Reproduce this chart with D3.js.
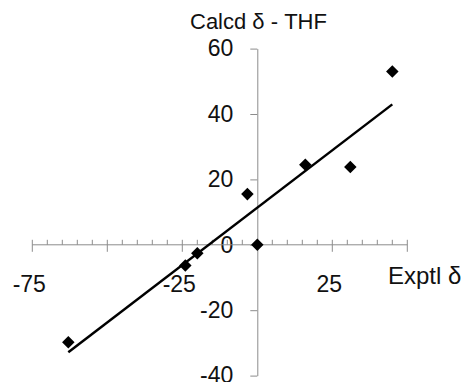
<!DOCTYPE html>
<html>
<head>
<meta charset="utf-8">
<script src="https://cdn.jsdelivr.net/npm/d3@7"></script>
<style>
  body { margin: 0; background: #fff; }
  svg { display: block; }
  text { font-family: "Liberation Sans", Arial, sans-serif; fill: #111; }
</style>
</head>
<body>
<svg id="chart" width="466" height="382"></svg>
<script>
// experimental vs calculated shifts
var exptl = [-63, -24, -20, -3.3, 0, 16, 31, 45];
var calcd = [-29.8, -6.3, -2.6, 15.5, 0, 24.5, 23.8, 53];
var xTickLabels = [-75, -25, 25];
var yTickValues = [-40, -20, 0, 20, 40, 60];

var svg = d3.select("#chart");

var x = d3.scaleLinear().domain([-75, 50]).range([32.3, 407.3]);
var y = d3.scaleLinear().domain([-40, 60]).range([375.6, 48.6]);

var axisColor = "#8c8c8c";

// y axis (through x = 0)
var yAxis = svg.append("g")
	.attr("transform", "translate(" + x(0) + ",0)")
	.call(d3.axisLeft(y).tickValues(yTickValues).tickSize(7).tickSizeOuter(0).tickPadding(17)
		.tickFormat(function(d) { return String(d); }));
yAxis.select(".domain").attr("stroke", axisColor);
yAxis.selectAll(".tick line").attr("stroke", axisColor);
yAxis.selectAll(".tick text")
	.attr("font-size", 23)
	.attr("font-family", "Liberation Sans, Arial, sans-serif")
	.attr("fill", "#111");

// x axis (through y = 0): minor ticks every 5, major every 25
var xa = svg.append("g").attr("transform", "translate(0," + y(0) + ")");
xa.append("line")
	.attr("x1", x(-75)).attr("x2", x(50))
	.attr("stroke", axisColor);
var minor = d3.range(-75, 51, 5);
xa.selectAll(".minor")
	.data(minor.filter(function(d) { return d % 25 !== 0; }))
	.enter().append("line")
	.attr("class", "minor")
	.attr("x1", function(d) { return x(d); })
	.attr("x2", function(d) { return x(d); })
	.attr("y1", -5).attr("y2", 0)
	.attr("stroke", axisColor);
xa.selectAll(".major")
	.data(minor.filter(function(d) { return d % 25 === 0 && d !== 0; }))
	.enter().append("line")
	.attr("class", "major")
	.attr("x1", function(d) { return x(d); })
	.attr("x2", function(d) { return x(d); })
	.attr("y1", -5).attr("y2", 7)
	.attr("stroke", axisColor);
xa.selectAll(".xlab")
	.data(xTickLabels)
	.enter().append("text")
	.attr("class", "xlab")
	.attr("x", function(d) { return x(d) - 3; })
	.attr("y", 47)
	.attr("text-anchor", "middle")
	.attr("font-size", 23)
	.text(function(d) { return String(d); });

// trend line (least squares)
var n = exptl.length;
var mx = d3.mean(exptl), my = d3.mean(calcd);
var sxy = 0, sxx = 0;
exptl.forEach(function(v, i) {
	sxy += (v - mx) * (calcd[i] - my);
	sxx += (v - mx) * (v - mx);
});
var slope = sxy / sxx;
var icpt = my - slope * mx;
var xr = d3.extent(exptl);
svg.append("line")
	.attr("x1", x(xr[0])).attr("y1", y(slope * xr[0] + icpt))
	.attr("x2", x(xr[1])).attr("y2", y(slope * xr[1] + icpt))
	.attr("stroke", "#000")
	.attr("stroke-width", 2.5);

// points
var diamond = d3.symbol().type(d3.symbolDiamond2).size(100);
svg.selectAll(".pt")
	.data(d3.range(n))
	.enter().append("path")
	.attr("class", "pt")
	.attr("d", diamond)
	.attr("transform", function(i) {
		return "translate(" + x(exptl[i]) + "," + y(calcd[i]) + ")";
	})
	.attr("fill", "#000");

// axis titles
svg.append("text")
	.attr("x", 190).attr("y", 29)
	.attr("font-size", 22)
	.attr("font-family", "Lato, sans-serif")
	.text("Calcd δ - THF");
svg.append("text")
	.attr("x", 388).attr("y", 284)
	.attr("font-size", 24)
	.text("Exptl δ");
</script>
</body>
</html>
